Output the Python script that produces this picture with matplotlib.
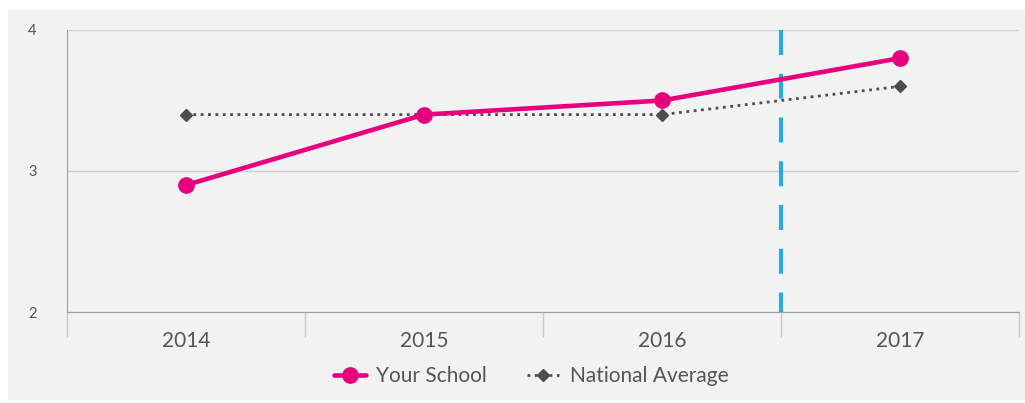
import matplotlib.pyplot as plt
from matplotlib.patches import Rectangle

years = ["2014", "2015", "2016", "2017"]
your_school = [2.9, 3.4, 3.5, 3.8]
national_avg = [3.4, 3.4, 3.4, 3.6]
y_ticks = [2, 3, 4]

pink = "#e6007e"
dark = "#4d4d4d"
blue = "#29abe2"

plt.rcParams['font.family'] = ['Lato', 'DejaVu Sans']

fig = plt.figure(figsize=(10.25, 4.03), dpi=100)
fig.patch.set_facecolor("white")
# grey panel behind the chart
fig.patches.append(Rectangle((8 / 1025, 3 / 403), 1 - 8 / 1025, 1 - 13 / 403,
                             transform=fig.transFigure, facecolor="#f2f2f2",
                             edgecolor="none", zorder=-10))

ax = fig.add_axes([67 / 1025, 1 - 312 / 403, 952 / 1025, 282 / 403])
ax.patch.set_alpha(0)

x = list(range(len(years)))
ax.plot(x, your_school, color=pink, lw=3.3, marker="o", ms=11,
        label="Your School", zorder=4, solid_capstyle="round")
ax.plot(x, national_avg, color=dark, lw=2, ls=":", marker="D", ms=6.5,
        label="National Average", zorder=3)

# dashed marker between 2016 and 2017
ax.plot([2.5, 2.5], [4, 2], color=blue, lw=3, dashes=(6, 4.5), zorder=2)

ax.set_xlim(-0.5, len(years) - 0.5)
ax.set_ylim(2, 4)
ax.set_yticks(y_ticks)
ax.set_yticklabels([str(v) for v in y_ticks])
ax.set_xticks(x)
ax.set_xticklabels(years)
ax.set_xticks([i - 0.5 for i in range(len(years) + 1)], minor=True)

ax.grid(axis="y", color="#d0d0d0", lw=1)
ax.set_axisbelow(True)
for s in ["top", "right"]:
    ax.spines[s].set_visible(False)
ax.spines["left"].set_color("#a0a0a0")
ax.spines["bottom"].set_color("#a0a0a0")

ax.tick_params(axis="y", length=0, pad=22, labelsize=10.5, labelcolor="#555555")
ax.tick_params(axis="x", which="major", length=0, pad=14, labelsize=15,
               labelcolor="#555555")
ax.tick_params(axis="x", which="minor", length=18, color="#c8c8c8", width=1)

ax.legend(loc="center", bbox_to_anchor=(531 / 1025, 1 - 376 / 403),
          bbox_transform=fig.transFigure, ncol=2, frameon=False,
          fontsize=15, labelcolor="#555555", handlelength=1.55,
          handletextpad=0.5, columnspacing=1.9)

fig.savefig("out.png", dpi=100)
